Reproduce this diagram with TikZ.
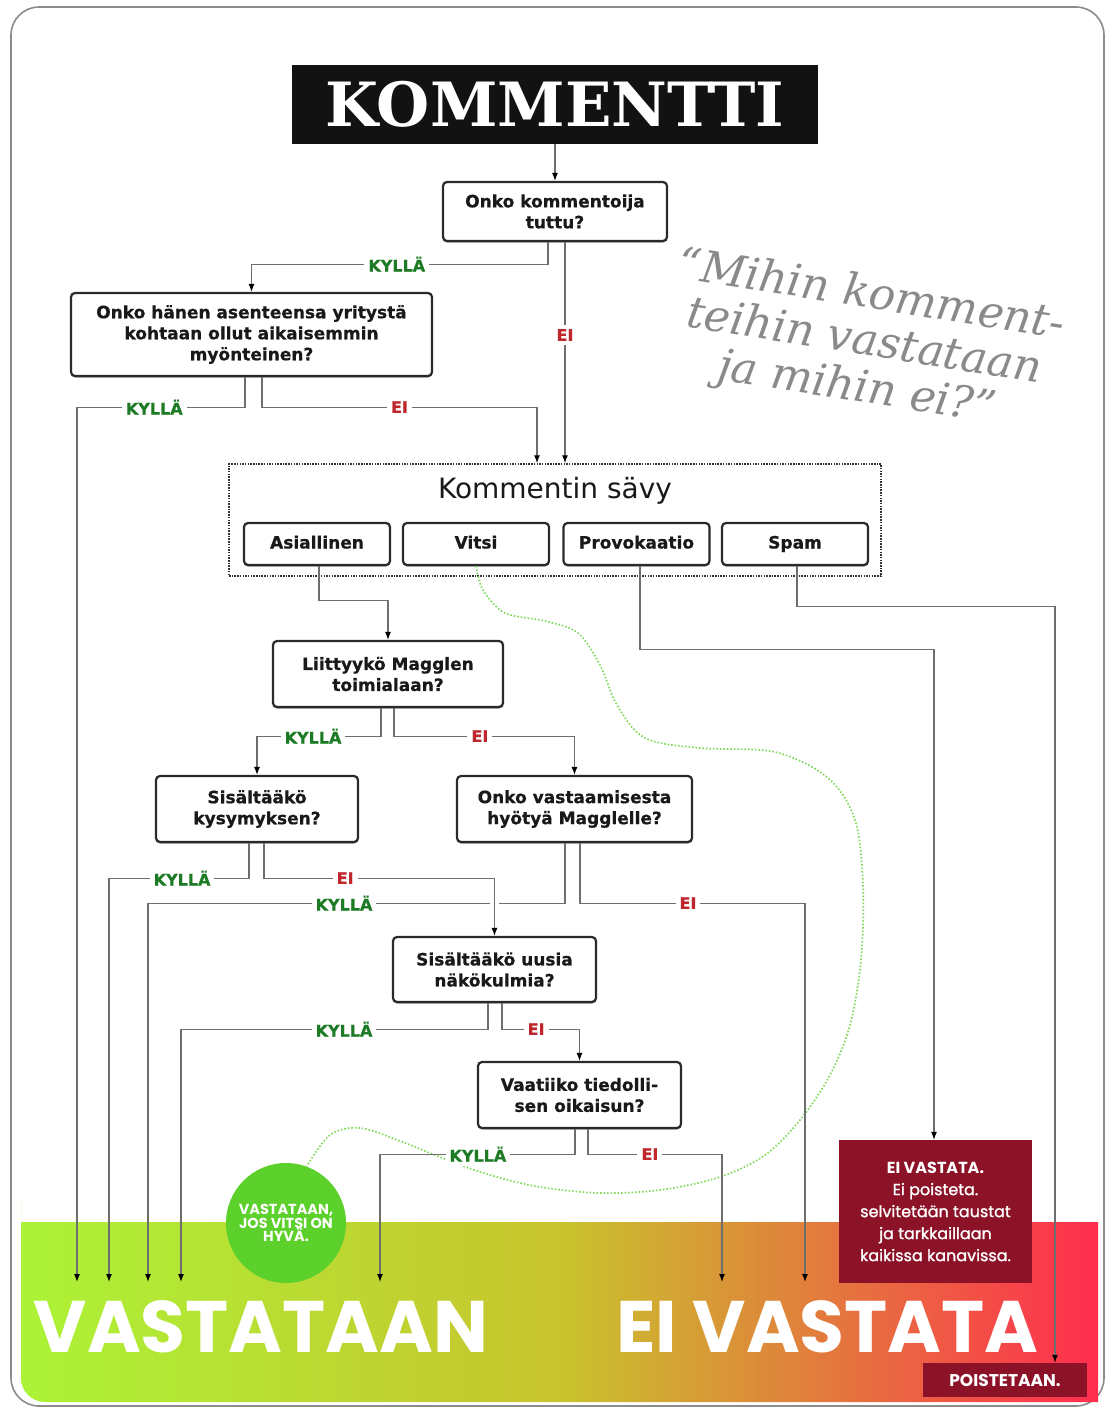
\documentclass[tikz,border=0pt]{standalone}
\usepackage{fontspec}
\setmainfont{DejaVu Sans}
\newfontfamily\slabfont{DejaVu Serif}
\newfontfamily\popfont{Poppins}
\newfontfamily\popmed{Poppins}[FakeBold=1.3]
\newfontfamily\boxfont{DejaVu Sans}[BoldFeatures={FakeBold=0.6}]
\usetikzlibrary{arrows.meta,shadows}
\definecolor{boxc}{HTML}{2A2A2A}
\definecolor{linec}{HTML}{6E6E6E}
\definecolor{kylc}{HTML}{1E7B25}
\definecolor{eic}{HTML}{C0272D}
\definecolor{darkred}{HTML}{8C1228}
\definecolor{circg}{HTML}{5CD02B}
\definecolor{bandl}{RGB}{172,243,55}
\definecolor{bandm}{RGB}{200,196,45}
\definecolor{bandr}{RGB}{255,45,78}
\definecolor{quotec}{HTML}{8A8A8A}
\definecolor{dotg}{HTML}{7CD955}
\begin{document}
\begin{tikzpicture}[x=1pt,y=-1pt,
 qbox/.style={draw=boxc,line width=2.2pt,rounded corners=4pt,fill=white,align=center,inner sep=2pt,
   font=\boxfont\bfseries\fontsize{17}{21}\selectfont,text=black!90,
   drop shadow={shadow xshift=0pt,shadow yshift=-1.5pt,opacity=0.45,fill=black}},
 tone/.style={qbox,minimum width=146pt,minimum height=42pt,text height=12.5pt,text depth=3.5pt},
 conn/.style={draw=linec,line width=1.1pt},
 arr/.style={conn,-{Latex[length=8pt,width=6pt,color=black]}},
 kyl/.style={fill=white,inner sep=4pt,text=kylc,font=\boxfont\bfseries\fontsize{16}{16}\selectfont},
 eil/.style={fill=white,inner sep=4pt,text=eic,font=\boxfont\bfseries\fontsize{16}{16}\selectfont},
]
\useasboundingbox (0,0) rectangle (1106,1409);
\fill[white] (0,0) rectangle (1106,1409);
\draw[draw=black!45,line width=1.6pt,rounded corners=28pt] (11,7) rectangle (1104,1406);
\shade[left color=bandl,right color=bandr,middle color=bandm]
  (21,1222) -- (1098,1222) -- (1098,1402) [rounded corners=24pt] -- (21,1402) -- (21,1222) [sharp corners] -- cycle;

% big result texts
\node[anchor=base,text=white,inner sep=0pt,font=\popfont\bfseries\fontsize{73}{73}\selectfont] (vast) at (261,1352) {VASTATAAN};
\node[anchor=base,text=white,inner sep=0pt,font=\popfont\bfseries\fontsize{73}{73}\selectfont] (eivast) at (827.5,1352) {EI VASTATA};

% title
\node[fill=black!93,minimum width=526pt,minimum height=79pt,inner sep=0pt,text=white,
  font=\slabfont\bfseries\fontsize{61}{61}\selectfont] (title) at (555,104.5) {KOMMENTTI};

% quote
\node[rotate=-9,align=center,text=quotec,font=\slabfont\itshape\fontsize{44}{47}\selectfont] (quote) at (864,343)
  {“Mihin komment-\\teihin vastataan\\ja mihin ei?”};

% questions
\node[qbox,minimum width=224pt,minimum height=59pt] (q1) at (555,211.5) {Onko kommentoija\\tuttu?};
\node[qbox,minimum width=361pt,minimum height=83pt] (q2) at (251.5,334.5) {Onko hänen asenteensa yritystä\\kohtaan ollut aikaisemmin\\myönteinen?};

% tone group
\node[draw=black!80,line width=1.5pt,dash pattern=on 1.5pt off 1.2pt,minimum width=652pt,minimum height=112pt] (savy) at (555,520) {};
\node[font=\fontsize{28}{28}\selectfont,text=black!90] (savyt) at (555,491) {Kommentin sävy};
\node[tone] (asia) at (317,544) {Asiallinen};
\node[tone] (vitsi) at (476,544) {Vitsi};
\node[tone] (prov) at (636.5,544) {Provokaatio};
\node[tone] (spam) at (795,544) {Spam};

\node[qbox,minimum width=230pt,minimum height=66pt] (q3) at (388,674) {Liittyykö Magglen\\toimialaan?};
\node[qbox,minimum width=202pt,minimum height=66pt] (q4) at (257,809) {Sisältääkö\\kysymyksen?};
\node[qbox,minimum width=235pt,minimum height=66pt] (q5) at (574.5,809) {Onko vastaamisesta\\hyötyä Magglelle?};
\node[qbox,minimum width=203pt,minimum height=65pt] (q6) at (494.5,969.5) {Sisältääkö uusia\\näkökulmia?};
\node[qbox,minimum width=203pt,minimum height=66pt] (q7) at (579.5,1095) {Vaatiiko tiedolli-\\sen oikaisun?};

% outcomes
\node[fill=darkred,minimum width=193pt,minimum height=143pt,text=white,align=center,
  font=\popmed\fontsize{16}{22}\selectfont] (eiv) at (935.5,1211.5)
  {{\popfont\bfseries EI VASTATA.}\\Ei poisteta.\\selvitetään taustat\\ja tarkkaillaan\\kaikissa kanavissa.};
\node[fill=darkred,minimum width=164pt,minimum height=34pt,text=white,
  font=\popfont\bfseries\fontsize{17}{17}\selectfont] (poist) at (1005,1380) {POISTETAAN.};
\node[circle,fill=circg,minimum size=120pt,inner sep=0pt,text=white,align=center,
  font=\popfont\bfseries\fontsize{14.5}{13.5}\selectfont] (circ) at (286,1223) {VASTATAAN,\\JOS VITSI ON\\HYVÄ.};

% arrow end points
\coordinate (e1) at (77,1282);
\coordinate (e2) at (109,1282);
\coordinate (e3) at (148,1282);
\coordinate (e4) at (181,1282);
\coordinate (e5) at (380,1282);
\coordinate (e6) at (722,1282);
\coordinate (e7) at (805,1282);

% joke path
\draw[dotg,line width=1.7pt,dash pattern=on 1.5pt off 2pt] plot[smooth,tension=0.55] coordinates {(vitsi.south) (483,590) (505,613) (545,621) (578,633) (600,665) (617,705) (645,738) (700,748) (775,752) (828,778) (855,820) (863,885) (861,960) (850,1025) (830,1075) (800,1120) (765,1155) (720,1177) (660,1190) (600,1193) (540,1187) (490,1175) (450,1161) (400,1141) (360,1128) (330,1135) (circ.70)};

% connectors
\draw[arr] (title) -- (q1);
\draw[arr] ([xshift=-7pt]q1.south) -- ++(0,22) -| node[kyl,pos=0.255]{KYLLÄ} (q2.north);
\path ([xshift=10pt]q1.south) coordinate (q1b);
\draw[arr] (q1b) -- node[eil,pos=0.42]{EI} (q1b |- savy.north);
\draw[arr] ([xshift=-6.5pt]q2.south) -- ++(0,30) -| node[kyl,pos=0.27]{KYLLÄ} (e1);
\draw[arr] ([xshift=10.5pt]q2.south) -- ++(0,30) -| node[eil,pos=0.25]{EI} ([xshift=-18pt]savy.north);

\draw[arr] ([xshift=2pt]asia.south) -- ++(0,34) -| (q3.north);
\draw[arr] ([xshift=3.5pt]prov.south) -- ++(0,83) -| ([xshift=-1.5pt]eiv.north);
\draw[arr] ([xshift=2pt]spam.south) -- ++(0,40) -| ([xshift=50pt]poist.north);

\draw[arr] ([xshift=-7pt]q3.south) -- ++(0,28) -| node[kyl,pos=0.274]{KYLLÄ} (q4.north);
\draw[arr] ([xshift=6pt]q3.south) -- ++(0,28) -| node[eil,pos=0.238]{EI} (q5.north);
\draw[arr] ([xshift=-8pt]q4.south) -- ++(0,35) -| node[kyl,pos=0.239]{KYLLÄ} (e2);
\draw[arr] ([xshift=-9.5pt]q5.south) -- ++(0,60) -| node[kyl,pos=0.265]{KYLLÄ} (e3);
\draw[arr,preaction={draw=white,line width=9pt,-,shorten <=12pt,shorten >=12pt}] ([xshift=7pt]q4.south) -- ++(0,35) -| node[eil,pos=0.176]{EI} (q6.north);
\draw[arr] ([xshift=5.5pt]q5.south) -- ++(0,60) -| node[eil,pos=0.24]{EI} (e7);
\draw[arr] ([xshift=-6.5pt]q6.south) -- ++(0,26) -| node[kyl,pos=0.2345]{KYLLÄ} (e4);
\draw[arr] ([xshift=7.5pt]q6.south) -- ++(0,26) -| node[eil,pos=0.22]{EI} (q7.north);
\draw[arr] ([xshift=-4.5pt]q7.south) -- ++(0,25) -| node[kyl,pos=0.249]{KYLLÄ} (e5);
\draw[arr] ([xshift=8.5pt]q7.south) -- ++(0,25) -| node[eil,pos=0.231]{EI} (e6);
\end{tikzpicture}
\end{document}
